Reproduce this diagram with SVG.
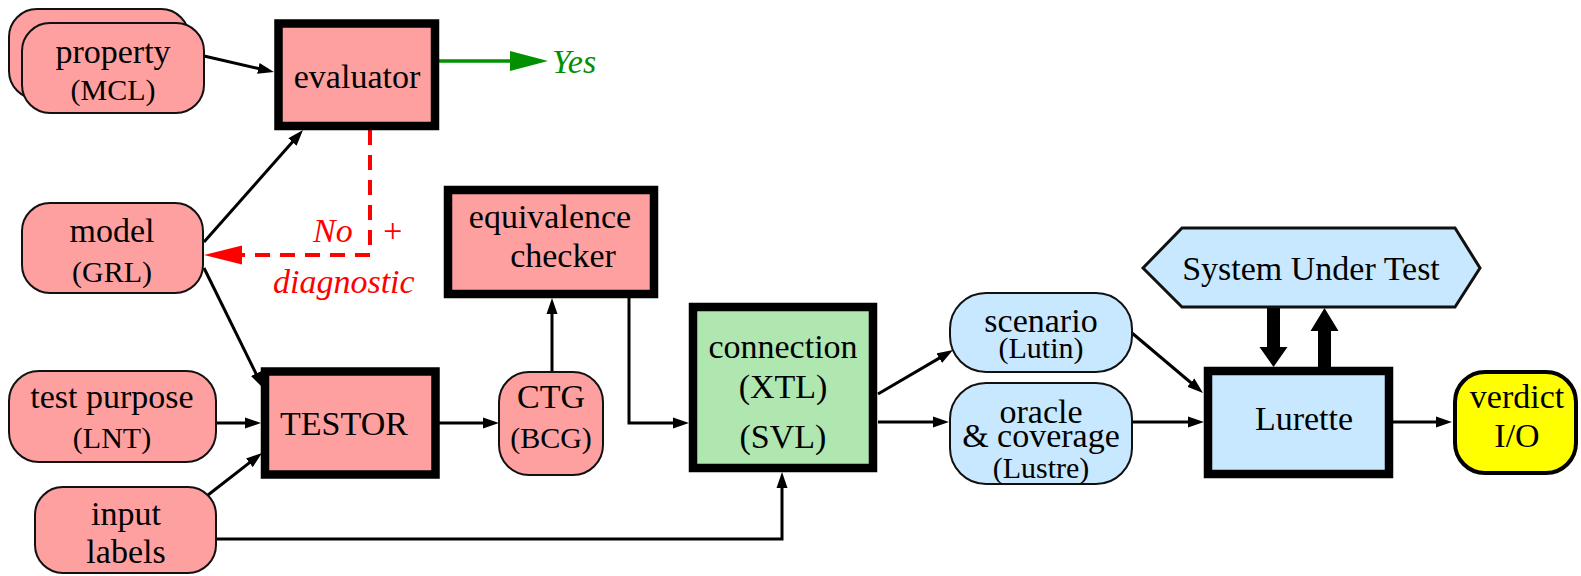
<svg xmlns="http://www.w3.org/2000/svg" width="1581" height="576" viewBox="0 0 1581 576">
<style>
text{font-family:"Liberation Serif","Times New Roman",serif;font-size:34px;fill:#000;text-anchor:middle}
.s{font-size:30px}
.it{font-style:italic;text-anchor:start}
.pink{fill:#ffa0a0}
.blue{fill:#c8e8ff}
.rn{stroke:#111;stroke-width:2}
.thick{stroke:#000;stroke-width:8.5}
.ln{fill:none;stroke:#000;stroke-width:3}
</style>
<defs>
<marker id="ah" markerUnits="userSpaceOnUse" markerWidth="16" markerHeight="12" refX="6" refY="6" orient="auto">
<path d="M0,0.5 L16,6 L0,11.5 z" fill="#000"/>
</marker>
<marker id="ahg" markerUnits="userSpaceOnUse" markerWidth="38" markerHeight="21" refX="8" refY="10.5" orient="auto">
<path d="M0,0.5 L38,10.5 L0,20.5 z" fill="#009000"/>
</marker>
<marker id="ahr" markerUnits="userSpaceOnUse" markerWidth="38" markerHeight="21" refX="8" refY="10.5" orient="auto">
<path d="M0,1 L38,10.5 L0,20 z" fill="#ff0000"/>
</marker>
</defs>

<g id="connectors">
<path class="ln" d="M204,56 L264.2,69.8" marker-end="url(#ah)"/>
<path class="ln" d="M204,242 L296.4,137.5" marker-end="url(#ah)"/>
<path class="ln" d="M204,268 L258.6,379" marker-end="url(#ah)"/>
<path class="ln" d="M216,423 H251" marker-end="url(#ah)"/>
<path class="ln" d="M208,495 L254.1,459.1" marker-end="url(#ah)"/>
<path class="ln" d="M216,539 H782 V482" marker-end="url(#ah)"/>
<path class="ln" d="M439,423 H489" marker-end="url(#ah)"/>
<path class="ln" d="M552,372 V308" marker-end="url(#ah)"/>
<path class="ln" d="M629,298 V423 H679" marker-end="url(#ah)"/>
<path class="ln" d="M878,394 L944.4,355.1" marker-end="url(#ah)"/>
<path class="ln" d="M878,422 H939" marker-end="url(#ah)"/>
<path class="ln" d="M1132,333 L1195.4,386.5" marker-end="url(#ah)"/>
<path class="ln" d="M1132,422 H1194" marker-end="url(#ah)"/>
<path class="ln" d="M1393,422 H1442" marker-end="url(#ah)"/>
<path d="M437,61 H518" fill="none" stroke="#009000" stroke-width="3.5" marker-end="url(#ahg)"/>
<path d="M370,130 V255 H234" fill="none" stroke="#ff0000" stroke-width="4" stroke-dasharray="15,10" marker-end="url(#ahr)"/>
<polygon points="1267,307 1280,307 1280,347 1287.5,347 1273.5,367 1259.5,347 1267,347" fill="#000"/>
<polygon points="1318,367 1331,367 1331,331 1338.5,331 1324.5,308 1310.5,331 1318,331" fill="#000"/>
</g>

<g id="property">
<rect class="pink rn" x="9" y="9" width="180" height="90" rx="28"/>
<rect class="pink rn" x="22" y="23" width="182" height="90" rx="28"/>
<text x="113" y="63">property</text>
<text class="s" x="113" y="100">(MCL)</text>
</g>

<g id="evaluator">
<rect class="pink thick" x="278.5" y="23.5" width="156.5" height="102.5"/>
<text x="357" y="88">evaluator</text>
</g>

<g id="yes">
<text class="it" x="552" y="73" style="fill:#009000">Yes</text>
</g>

<g id="model">
<rect class="pink rn" x="22" y="203" width="181" height="90" rx="28"/>
<text x="112" y="242">model</text>
<text class="s" x="112" y="282">(GRL)</text>
</g>

<g id="no-diagnostic">
<text class="it" x="313" y="242" style="fill:#ff0000">No</text>
<text class="it" x="381" y="242" style="fill:#ff0000">+</text>
<text class="it" x="273" y="293" style="fill:#ff0000">diagnostic</text>
</g>

<g id="equivalence-checker">
<rect class="pink thick" x="448" y="190" width="206" height="104"/>
<text x="550" y="228">equivalence</text>
<text x="563" y="267">checker</text>
</g>

<g id="test-purpose">
<rect class="pink rn" x="9" y="371" width="207" height="91" rx="30"/>
<text x="112" y="408">test purpose</text>
<text class="s" x="112" y="448">(LNT)</text>
</g>

<g id="testor">
<rect class="pink thick" x="265" y="371.5" width="170.5" height="103"/>
<text x="344" y="435">TESTOR</text>
</g>

<g id="ctg">
<rect class="pink rn" x="499" y="372" width="104" height="103" rx="30"/>
<text x="551" y="408">CTG</text>
<text class="s" x="551" y="448">(BCG)</text>
</g>

<g id="input-labels">
<rect class="pink rn" x="35" y="487" width="181" height="86" rx="28"/>
<text x="126" y="525">input</text>
<text x="126" y="563">labels</text>
</g>

<g id="connection">
<rect class="thick" x="693" y="307" width="180" height="161" fill="#b0e6b0"/>
<text x="783" y="358">connection</text>
<text x="783" y="398">(XTL)</text>
<text x="783" y="448">(SVL)</text>
</g>

<g id="scenario">
<rect class="blue rn" x="950" y="293" width="182" height="79" rx="36"/>
<text x="1041" y="332">scenario</text>
<text class="s" x="1041" y="358">(Lutin)</text>
</g>

<g id="oracle">
<rect class="blue rn" x="950" y="383" width="182" height="101" rx="36"/>
<text x="1041" y="423">oracle</text>
<text x="1041" y="447">&amp; coverage</text>
<text class="s" x="1041" y="478">(Lustre)</text>
</g>

<g id="sut">
<polygon class="blue" points="1143,268 1182,228 1455,228 1480,268 1455,307 1182,307" stroke="#111" stroke-width="3"/>
<text x="1311" y="280">System Under Test</text>
</g>

<g id="lurette">
<rect class="blue thick" x="1208" y="371" width="181" height="103"/>
<text x="1304" y="430">Lurette</text>
</g>

<g id="verdict">
<rect x="1455" y="372" width="121" height="101" rx="30" fill="#ffff00" stroke="#000" stroke-width="4"/>
<text x="1517" y="408">verdict</text>
<text x="1517" y="447">I/O</text>
</g>
</svg>
